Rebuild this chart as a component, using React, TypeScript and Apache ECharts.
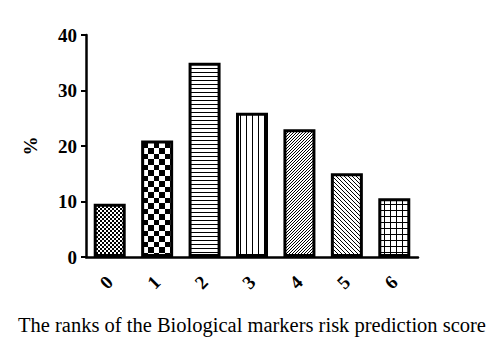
import React, { useEffect, useRef } from "react";
import * as echarts from "echarts";

const categories = ["0", "1", "2", "3", "4", "5", "6"];
const values = [9.6, 21, 35, 26, 23, 15.1, 10.6];
const patternKinds = ["fineCheck", "check", "hlines", "vlines", "diagUp", "diagDown", "grid"];
const yTicks = [0, 10, 20, 30, 40];

function makePattern(kind: string): HTMLCanvasElement {
  const c = document.createElement("canvas");
  let s = 4;
  if (kind === "fineCheck") s = 4;
  if (kind === "check") s = 11;
  if (kind === "hlines") s = 4;
  if (kind === "vlines") s = 6;
  if (kind === "diagUp") s = 3;
  if (kind === "diagDown") s = 4;
  if (kind === "grid") s = 6;
  c.width = s;
  c.height = s;
  const ctx = c.getContext("2d")!;
  ctx.fillStyle = "#fff";
  ctx.fillRect(0, 0, s, s);
  ctx.fillStyle = "#000";
  ctx.strokeStyle = "#000";
  ctx.lineWidth = 1;
  if (kind === "fineCheck") {
    ctx.fillRect(0, 0, 2, 2);
    ctx.fillRect(2, 2, 2, 2);
  } else if (kind === "check") {
    const h = Math.floor(s / 2);
    ctx.fillRect(0, 0, h, h);
    ctx.fillRect(h, h, s - h, s - h);
  } else if (kind === "hlines") {
    ctx.fillRect(0, 0, s, 1);
  } else if (kind === "vlines") {
    ctx.fillRect(0, 0, 1, s);
  } else if (kind === "grid") {
    ctx.fillRect(0, 0, s, 1);
    ctx.fillRect(0, 0, 1, s);
  } else if (kind === "diagUp") {
    ctx.beginPath();
    ctx.moveTo(-1, s + 1);
    ctx.lineTo(s + 1, -1);
    ctx.moveTo(-1, 1);
    ctx.lineTo(1, -1);
    ctx.moveTo(s - 1, s + 1);
    ctx.lineTo(s + 1, s - 1);
    ctx.stroke();
  } else if (kind === "diagDown") {
    ctx.beginPath();
    ctx.moveTo(-1, -1);
    ctx.lineTo(s + 1, s + 1);
    ctx.moveTo(s - 1, -1);
    ctx.lineTo(s + 1, 1);
    ctx.moveTo(-1, s - 1);
    ctx.lineTo(1, s + 1);
    ctx.stroke();
  }
  return c;
}

const FONT = "'Liberation Serif', 'Times New Roman', serif";

export default function App() {
  const ref = useRef<HTMLDivElement>(null);
  useEffect(() => {
    document.body.style.margin = "0";
    if (!ref.current) return;
    const chart = echarts.init(ref.current, undefined, { renderer: "svg" });
    const data = values.map((v, i) => ({
      value: v,
      itemStyle: {
        color: { image: makePattern(patternKinds[i]), repeat: "repeat" } as any,
        borderColor: "#000",
        borderWidth: 3,
      },
    }));
    chart.setOption({
      animation: false,
      backgroundColor: "#fff",
      grid: { left: 86, right: 82, top: 35, bottom: 96 },
      xAxis: {
        type: "category",
        data: categories,
        name: "The ranks of the Biological markers risk prediction score",
        nameLocation: "middle",
        nameGap: 57,
        nameTextStyle: { fontFamily: FONT, fontSize: 20.5, color: "#000" },
        axisLine: { lineStyle: { color: "#000", width: 2.5 } },
        axisTick: { alignWithLabel: true, length: 5, lineStyle: { color: "#000", width: 2 } },
        axisLabel: {
          rotate: 45,
          margin: 22,
          fontFamily: FONT,
          fontSize: 19,
          fontWeight: "bold",
          color: "#000",
        },
      },
      yAxis: {
        type: "value",
        min: 0,
        max: 40,
        interval: 10,
        name: "%",
        nameLocation: "middle",
        nameGap: 46,
        nameRotate: 90,
        nameTextStyle: { fontFamily: FONT, fontSize: 19, fontWeight: "bold", color: "#000" },
        axisLine: { show: true, lineStyle: { color: "#000", width: 2.5 } },
        axisTick: { show: true, length: 5, lineStyle: { color: "#000", width: 2 } },
        splitLine: { show: false },
        axisLabel: {
          margin: 9,
          fontFamily: FONT,
          fontSize: 19,
          fontWeight: "bold",
          color: "#000",
          formatter: (v: number) => (yTicks.includes(v) ? String(v) : ""),
        },
      },
      series: [
        {
          type: "bar",
          data,
          barWidth: 32,
        },
      ],
    });
    return () => chart.dispose();
  }, []);
  return <div ref={ref} style={{ width: 500, height: 353 }} />;
}
